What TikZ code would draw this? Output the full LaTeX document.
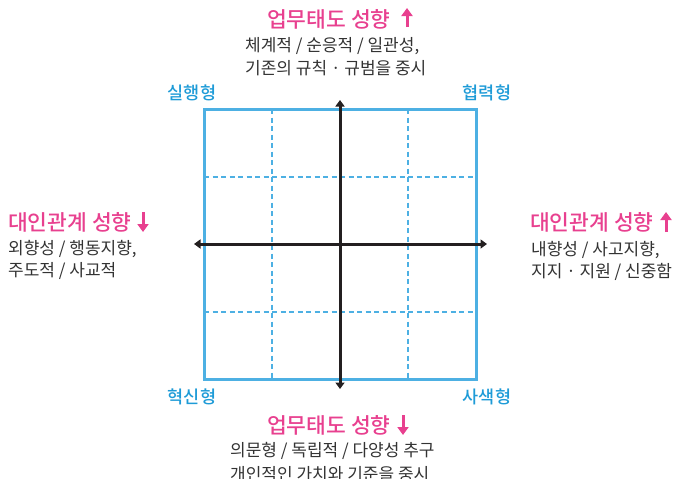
\documentclass[tikz,border=0pt]{standalone}
\usepackage{fontspec}
\setmainfont{Noto Sans CJK KR}
\newfontfamily\krm{Noto Sans CJK KR Medium}
\usetikzlibrary{arrows.meta}
\definecolor{pinkc}{HTML}{E8408F}
\definecolor{cyanc}{HTML}{1E9BD7}
\definecolor{boxc}{HTML}{4DB0E3}
\definecolor{txtc}{HTML}{333333}
\definecolor{axc}{HTML}{231F20}
\tikzset{
  title/.style={anchor=west,inner sep=0pt,text=pinkc,font=\krm\fontsize{21.5}{21.5}\selectfont},
  body/.style={anchor=west,inner sep=0pt,text=txtc,font=\fontsize{17}{17}\selectfont},
  corner/.style={inner sep=0pt,text=cyanc,font=\krm\fontsize{17.5}{17.5}\selectfont},
  parrow/.style={pinkc,line width=3pt,-{Triangle[length=8pt,width=11pt]}},
  axis/.style={axc,line width=3pt,{Triangle[length=6.5pt,width=9pt]}-{Triangle[length=6.5pt,width=9pt]}},
  grid dash/.style={boxc,line width=1.5pt,dash pattern=on 5pt off 3.5pt},
}
\begin{document}
\begin{tikzpicture}[x=1pt,y=-1pt]
\useasboundingbox (0,0) rectangle (675,479);
\clip (0,0) rectangle (675,479);
% grid
\draw[grid dash] (272,109) -- (272,379);
\draw[grid dash] (408,109) -- (408,379);
\draw[grid dash] (204,177) -- (476,177);
\draw[grid dash] (204,312) -- (476,312);
\draw[boxc,line width=3pt] (204,109) rectangle (476,379);
% axes
\coordinate (top) at (340,100);
\coordinate (bot) at (340,389);
\coordinate (lft) at (194,244);
\coordinate (rgt) at (487,244);
\draw[axis] (top) -- (bot);
\draw[axis] (lft) -- (rgt);
% corners
\node[corner] (c1) at (192,93) {실행형};
\node[corner] (c2) at (487,93) {협력형};
\node[corner] (c3) at (192,397) {혁신형};
\node[corner] (c4) at (487,397) {사색형};
% top
\node[title] (tt) at (267,19) {업무태도 성향};
\coordinate (ta1) at (407,27);
\coordinate (ta2) at (407,8);
\draw[parrow] (ta1) -- (ta2);
\node[body] (t1) at (245,46) {체계적 / 순응적 / 일관성,};
\node[body] (t2) at (245,68) {기존의 규칙 · 규범을 중시};
% left
\node[title] (lt) at (8,222) {대인관계 성향};
\coordinate (la1) at (143,212);
\coordinate (la2) at (143,232);
\draw[parrow] (la1) -- (la2);
\node[body] (l1) at (8,249) {외향성 / 행동지향,};
\node[body] (l2) at (8,271) {주도적 / 사교적};
% right
\node[title] (rt) at (530,222) {대인관계 성향};
\coordinate (ra1) at (666,232);
\coordinate (ra2) at (666,212);
\draw[parrow] (ra1) -- (ra2);
\node[body] (r1) at (531,250) {내향성 / 사고지향,};
\node[body] (r2) at (531,272) {지지 · 지원 / 신중함};
% bottom
\node[title] (bt) at (267,425) {업무태도 성향};
\coordinate (ba1) at (403,415);
\coordinate (ba2) at (403,435);
\draw[parrow] (ba1) -- (ba2);
\node[body] (b1) at (230,451) {의문형 / 독립적 / 다양성 추구};
\node[body] (b2) at (230,474) {개인적인 가치와 기준을 중시};
\end{tikzpicture}
\end{document}
